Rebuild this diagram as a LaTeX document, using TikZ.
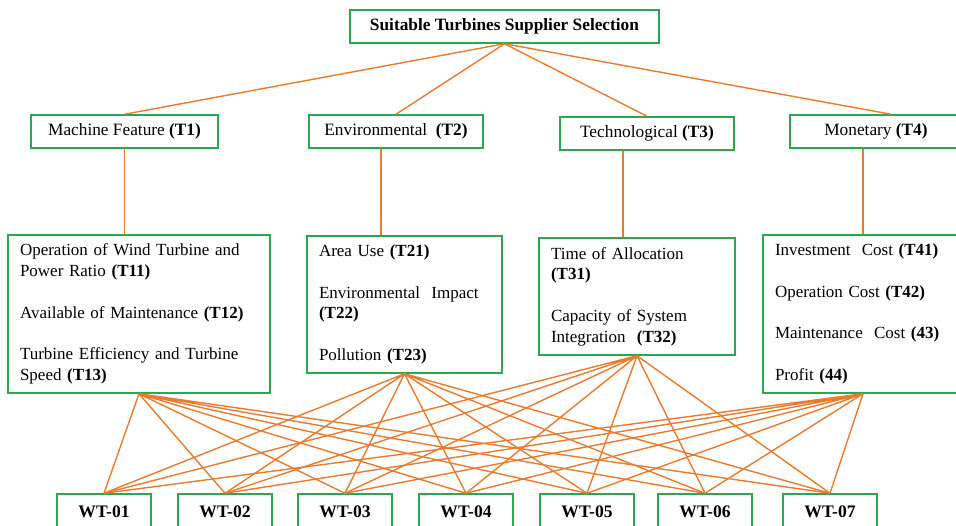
\documentclass[tikz,border=0pt]{standalone}
\usepackage{fontspec}
\setmainfont{Liberation Serif}
\usepackage[usenames, dvipsnames]{xcolor}
\usepackage{tikz}
\definecolor{BoxGreen}{RGB}{40,168,80}
\definecolor{LinkOrange}{RGB}{234,122,44}

\begin{document}
\begin{tikzpicture}[x=1pt, y=-1pt,
		box/.style={draw=BoxGreen, line width=1.5pt, fill=White, inner sep=0pt, font=\fontsize{17.3}{20.8}\selectfont},
		list/.style={box, align=left, inner xsep=12pt, font=\fontsize{17}{20.8}\selectfont},
		turbine/.style={box, minimum width=94, minimum height=36, font=\fontsize{17.6}{20}\selectfont\bfseries},
		link/.style={LinkOrange, line width=1.4pt}]
		\useasboundingbox (0, 0) rectangle (956, 525);
		\clip (0, 0) rectangle (956, 525);
		% The goal of the selection
		\node [box, minimum width=309, minimum height=33, font=\fontsize{17.3}{20.8}\selectfont\bfseries] (goal) at (504.5, 26.5) {Suitable Turbines Supplier Selection};
		% The four main criteria
		\node [box, minimum width=187, minimum height=33] (T1) at (124.5, 131.5) {Machine Feature \textbf{(T1)}};
		\node [box, minimum width=174, minimum height=33] (T2) at (396, 131.5) {Environmental \ \textbf{(T2)}};
		\node [box, minimum width=174, minimum height=33] (T3) at (647, 133.5) {Technological \textbf{(T3)}};
		\node [box, minimum width=172, minimum height=33] (T4) at (876, 131.5) {Monetary \textbf{(T4)}};
		% The sub-criteria of each criterion
		\node [list, text width=238, minimum height=158] (T11) at (139, 314) {Operation of Wind Turbine and\\Power Ratio \textbf{(T11)}\\[20.8pt]Available of Maintenance \textbf{(T12)}\\[20.8pt]Turbine Efficiency and Turbine\\Speed \textbf{(T13)}};
		\node [list, text width=171, minimum height=137] (T21) at (404.5, 304.5) {Area Use \textbf{(T21)}\\[20.8pt]Environmental \ Impact\\\textbf{(T22)}\\[20.8pt]Pollution \textbf{(T23)}};
		\node [list, text width=172, minimum height=117] (T31) at (637, 296.5) {Time of Allocation\\\textbf{(T31)}\\[20.8pt]Capacity of System\\Integration \ \textbf{(T32)}};
		\node [list, text width=176, minimum height=158] (T41) at (863, 314) {Investment \ Cost \textbf{(T41)}\\[20.8pt]Operation Cost \textbf{(T42)}\\[20.8pt]Maintenance \ Cost \textbf{(43)}\\[20.8pt]Profit \textbf{(44)}};
		% The wind turbines to choose from
		\node [turbine] (W1) at (104, 512) {WT-01};
		\node [turbine] (W2) at (225, 512) {WT-02};
		\node [turbine] (W3) at (345, 512) {WT-03};
		\node [turbine] (W4) at (466, 512) {WT-04};
		\node [turbine] (W5) at (587, 512) {WT-05};
		\node [turbine] (W6) at (705, 512) {WT-06};
		\node [turbine] (W7) at (830, 512) {WT-07};
		% Goal to criteria
		\draw [link] (goal.south) -- (T1.north);
		\draw [link] (goal.south) -- (T2.north);
		\draw [link] (goal.south) -- (T3.north);
		\draw [link] (goal.south) -- ([xshift=15pt]T4.north);
		% Criteria to sub-criteria
		\draw [link] (T1.south) -- (T1.south |- T11.north);
		\draw [link] ([xshift=-15pt]T2.south) -- ([xshift=-15pt]T2.south |- T21.north);
		\draw [link] ([xshift=-24pt]T3.south) -- ([xshift=-24pt]T3.south |- T31.north);
		\draw [link] (T4.south -| T41.north) -- (T41.north);
		% Sub-criteria to every wind turbine
		\draw [link] (T11.south) -- (W1.north) (T11.south) -- (W2.north) (T11.south) -- (W3.north) (T11.south) -- (W4.north) (T11.south) -- (W5.north) (T11.south) -- (W6.north) (T11.south) -- (W7.north);
		\draw [link] (T21.south) -- (W1.north) (T21.south) -- (W2.north) (T21.south) -- (W3.north) (T21.south) -- (W4.north) (T21.south) -- (W5.north) (T21.south) -- (W6.north) (T21.south) -- (W7.north);
		\draw [link] (T31.south) -- (W1.north) (T31.south) -- (W2.north) (T31.south) -- (W3.north) (T31.south) -- (W4.north) (T31.south) -- (W5.north) (T31.south) -- (W6.north) (T31.south) -- (W7.north);
		\draw [link] (T41.south) -- (W1.north) (T41.south) -- (W2.north) (T41.south) -- (W3.north) (T41.south) -- (W4.north) (T41.south) -- (W5.north) (T41.south) -- (W6.north) (T41.south) -- (W7.north);
	\end{tikzpicture}
\end{document}
